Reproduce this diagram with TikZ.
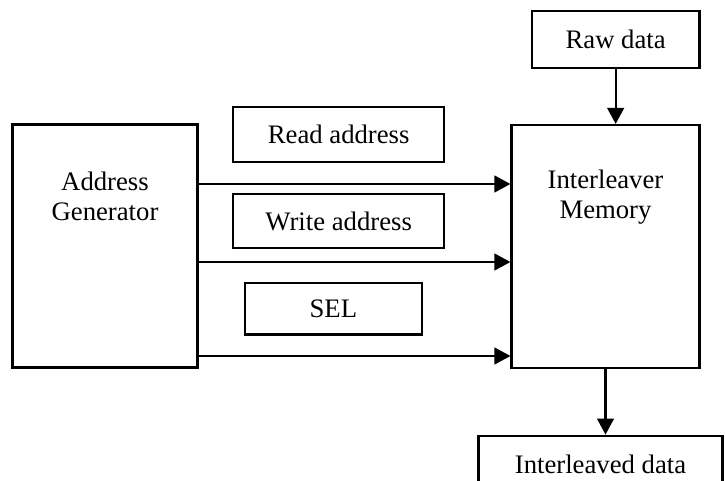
\documentclass[tikz,border=0pt]{standalone}
\usepackage{fontspec}
\setmainfont{Liberation Serif}
\usetikzlibrary{arrows.meta,positioning}
\tikzset{%
	block/.style = {draw, rectangle, line width=1.8pt, inner sep=0pt, text centered},
	arrow/.style = {line width=1.8pt, -{Triangle[length=0.48cm,width=0.5cm]}},
}

\begin{document}
\begin{tikzpicture}[font=\fontsize{22.8pt}{25.6pt}\selectfont]
		\useasboundingbox (0,0) rectangle (21.75,14.43);
		
		\node[block, minimum width=5.55cm, minimum height=7.29cm] (gen) at (3.15,7.05) {};
		\node[block, minimum width=5.64cm, minimum height=7.29cm] (mem) at (18.165,7.035) {};
		\node[align=center] (gentext) at ([yshift=-2.2cm]gen.north) {Address\\Generator};
		\node[align=center] (memtext) at ([yshift=-2.2cm]mem.north) {Interleaver\\Memory};
		
		\node[block, minimum width=5.03cm, minimum height=1.7cm] (raw) at (18.47,13.25) {Raw data};
		\node[block, minimum width=6.34cm, minimum height=1.65cm] (read) at (10.16,10.395) {Read address};
		\node[block, minimum width=6.34cm, minimum height=1.64cm] (write) at (10.16,7.8) {Write address};
		\node[block, minimum width=5.3cm, minimum height=1.55cm] (sel) at (10,5.17) {SEL};
		\node[block, minimum width=7.32cm, minimum height=1.7cm] (out) at (18.015,0.51) {Interleaved data};
		
		\foreach \y in {8.91,6.57,3.75} \draw[arrow] (gen.east |- 0,\y) -- (mem.west |- 0,\y);
		
		\draw[arrow] (raw.south) -- (raw.south |- mem.north);
		\draw[arrow] (mem.south) -- (mem.south |- out.north);
	\end{tikzpicture}
\end{document}
